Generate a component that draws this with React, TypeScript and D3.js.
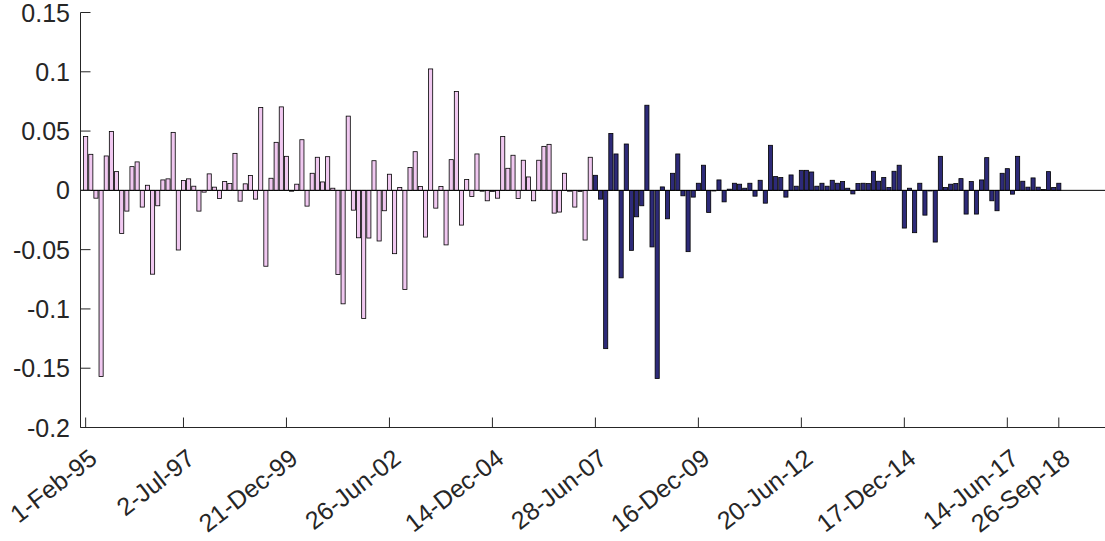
import * as d3 from 'd3'

const W = 1105
const H = 541

// FOMC meeting returns, split at 28-Jun-07
const preValues = [
  0.0455, 0.0304, -0.0066, -0.157, 0.029, 0.0497, 0.0158, -0.0363, -0.0175, 0.02,
  0.024, -0.0141, 0.0043, -0.0707, -0.013, 0.0088, 0.0097, 0.0489, -0.0503, 0.0083,
  0.0097, 0.0035, -0.0175, -0.0015, 0.0139, 0.0027, -0.0069, 0.0074, 0.0057, 0.0312,
  -0.0091, 0.0055, 0.0125, -0.0074, 0.0699, -0.064, 0.0102, 0.0405, 0.0704, 0.0287,
  -0.0007, 0.0052, 0.0427, -0.0133, 0.0144, 0.0279, 0.0071, 0.0284, 0.0018, -0.071,
  -0.0957, 0.0626, -0.0167, -0.04, -0.108, -0.0402, 0.025, -0.0427, -0.0172, 0.0136,
  -0.0534, 0.0024, -0.0836, 0.0192, 0.0326, 0.0032, -0.0394, 0.1024, -0.015, 0.0032,
  -0.046, 0.0259, 0.0833, -0.0293, 0.0091, -0.0052, 0.0307, -0.0007, -0.0088, -0.001,
  -0.0066, 0.0455, 0.0186, 0.0296, -0.0069, 0.0254, 0.0113, -0.0088, 0.0254, 0.0371,
  0.0388, -0.0192, -0.0183, 0.0144, -0.0007, -0.0141, -0.001, -0.0419, 0.0279,
]

const postValues = [
  0.0127, -0.0074, -0.1335, 0.048, 0.0307, -0.0738, 0.0391, -0.0506, -0.0223, -0.013,
  0.0718, -0.0477, -0.1587, 0.0029, -0.024, 0.0144, 0.0307, -0.0046, -0.0517, -0.0057,
  0.006, 0.0212, -0.0186, -0.0005, 0.0088, -0.0097, 0.001, 0.006, 0.0052, 0.0018,
  0.006, -0.0049, 0.0085, -0.0108, 0.038, 0.0116, 0.0108, -0.0057, 0.013, 0.0035,
  0.0169, 0.0169, 0.0155, 0.0035, 0.006, 0.0035, 0.0085, 0.006, 0.0074, 0.0018,
  -0.003, 0.0057, 0.006, 0.0057, 0.0161, 0.0077, 0.0108, 0.0024, 0.0161, 0.0212,
  -0.0318, 0.0018, -0.0357, 0.006, -0.0209, -0.0005, -0.0436, 0.0287, 0.0024, 0.0052,
  0.0057, 0.0099, -0.02, 0.0074, -0.02, 0.0088, 0.0276, -0.0088, -0.0172, 0.0144,
  0.0183, -0.0032, 0.0287, 0.0077, 0.0027, 0.0105, 0.0027, 0.0007, 0.0158, 0.0024,
  0.006,
]

const tickIndex = [1, 20, 40, 60, 80, 100, 120, 140, 160, 180, 190]
const tickLabels = [
  '1-Feb-95', '2-Jul-97', '21-Dec-99', '26-Jun-02', '14-Dec-04', '28-Jun-07',
  '16-Dec-09', '20-Jun-12', '17-Dec-14', '14-Jun-17', '26-Sep-18',
]
const yTicks = [-0.2, -0.15, -0.1, -0.05, 0, 0.05, 0.1, 0.15]

const PRE_COLOR = '#f0c8f0'
const POST_COLOR = '#2d2a78'
const AXIS = '#262626'
const FONT = '"Liberation Sans", Arial, Helvetica, sans-serif'

export default function App() {
  const left = 80.5
  const step = 5.149
  const x = d3.scaleLinear().domain([0, 200]).range([left, left + 200 * step])
  const y = d3.scaleLinear().domain([-0.2, 0.15]).range([427.5, 12.5])
  const bw = (x(1) - x(0)) * 0.8

  const bars = [
    ...preValues.map((v, i) => ({ idx: i + 1, v, fill: PRE_COLOR })),
    ...postValues.map((v, i) => ({ idx: preValues.length + i + 1, v, fill: POST_COLOR })),
  ]

  const y0 = y(0)
  const bottom = y(-0.2)

  return (
    <svg width={W} height={H} style={{ position: 'absolute', left: 0, top: 0, background: '#fff' }}>
      {/* bars */}
      {bars.map((b) => (
        <rect
          key={b.idx}
          x={x(b.idx) - bw / 2}
          y={Math.min(y(b.v), y0)}
          width={bw}
          height={Math.abs(y(b.v) - y0)}
          fill={b.fill}
          stroke="#000"
          strokeWidth={0.8}
        />
      ))}

      {/* baseline */}
      <line x1={left} x2={W} y1={y0} y2={y0} stroke="#000" strokeWidth={1} />

      {/* y axis */}
      <line x1={left} x2={left} y1={y(0.15)} y2={bottom} stroke={AXIS} strokeWidth={1} />
      {yTicks.map((t) => (
        <g key={t}>
          <line x1={left} x2={left + 10} y1={y(t)} y2={y(t)} stroke={AXIS} strokeWidth={1} />
          <text
            x={70} y={y(t)} textAnchor="end" dominantBaseline="central"
            style={{ fontSize: 25, fill: AXIS, fontFamily: FONT }}
          >
            {String(t)}
          </text>
        </g>
      ))}

      {/* x axis */}
      <line x1={left} x2={W} y1={bottom} y2={bottom} stroke={AXIS} strokeWidth={1} />
      {tickIndex.map((t, i) => (
        <g key={t}>
          <line x1={x(t)} x2={x(t)} y1={bottom} y2={bottom - 10} stroke={AXIS} strokeWidth={1} />
          <text
            transform={`translate(${x(t) + 13},${461.5}) rotate(-38)`}
            textAnchor="end"
            style={{ fontSize: 25, fill: AXIS, fontFamily: FONT }}
          >
            {tickLabels[i]}
          </text>
        </g>
      ))}
    </svg>
  )
}
